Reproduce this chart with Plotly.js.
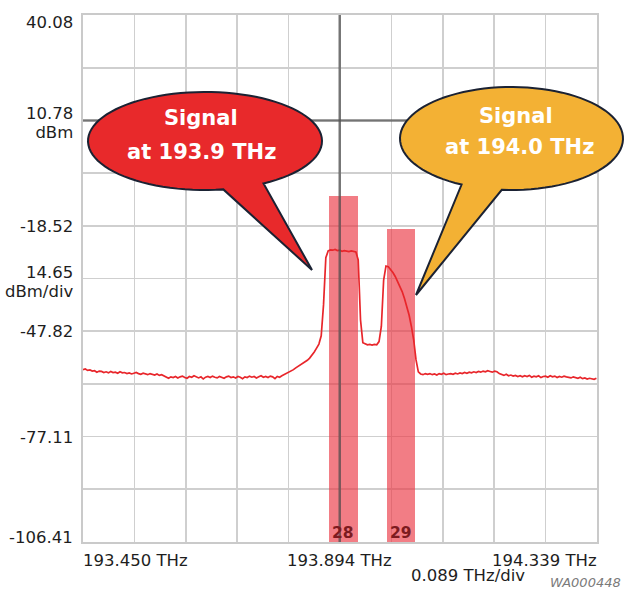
<!DOCTYPE html>
<html><head><meta charset="utf-8">
<script src="https://cdn.plot.ly/plotly-3.0.1.min.js"></script>
<style>html,body{margin:0;padding:0;background:#fff;} #chart{width:625px;height:589px;}</style>
</head><body><div id="chart"></div>
<script>
// ---- data ----
const freqStart = 193.450;   // THz, first trace sample
const freqStep = 0.004;      // THz between samples
const powerDbm = [
 -58.5,-58.3,-58.7,-58.6,-58.9,-58.8,-59.2,-58.9,-59.0,-59.3,
 -59.1,-59.4,-59.0,-59.3,-59.2,-59.5,-59.1,-59.4,-59.3,-59.6,
 -59.4,-59.7,-59.5,-59.3,-59.6,-59.8,-59.5,-59.7,-59.9,-59.6,
 -59.8,-60.0,-59.7,-60.1,-59.9,-60.3,-60.6,-60.9,-60.5,-60.7,
 -60.4,-60.8,-60.5,-60.3,-60.7,-60.9,-60.4,-60.6,-60.2,-60.5,
 -60.8,-60.5,-61.1,-60.6,-60.4,-60.7,-60.3,-60.6,-60.8,-60.4,
 -60.6,-60.9,-60.5,-60.3,-60.7,-60.5,-60.8,-60.4,-60.6,-61.0,
 -60.5,-60.7,-60.3,-60.6,-60.4,-60.8,-60.5,-60.2,-60.6,-60.4,
 -60.7,-60.3,-60.5,-61.0,-60.4,-60.6,-60.2,-59.9,-59.4,-59.2,
 -58.9,-58.5,-58.0,-57.6,-57.2,-56.8,-56.4,-55.9,-55.3,-54.5,
 -53.6,-52.5,-51.4,-49.1,-40.5,-27.4,-25.5,-25.2,-25.3,-25.1,
 -25.4,-25.3,-25.6,-25.4,-25.5,-25.7,-25.5,-25.6,-25.8,-28.0,
 -44.7,-51.0,-51.4,-51.6,-51.5,-51.7,-51.5,-51.6,-50.7,-46.5,
 -33.6,-29.7,-29.9,-30.6,-31.5,-32.6,-34.0,-35.4,-36.8,-38.7,
 -40.8,-43.3,-46.5,-50.3,-55.8,-59.1,-59.7,-59.9,-59.6,-59.8,
 -59.6,-59.9,-59.7,-60.0,-59.6,-59.8,-59.5,-59.9,-59.7,-59.6,
 -59.8,-59.5,-59.7,-59.4,-59.6,-59.3,-59.5,-59.2,-59.4,-59.1,
 -59.3,-59.0,-59.2,-58.9,-59.1,-58.8,-59.0,-59.2,-58.9,-59.1,
 -59.6,-59.9,-60.1,-59.8,-60.2,-60.0,-60.3,-60.1,-60.4,-60.2,
 -60.5,-60.2,-60.4,-60.1,-60.6,-60.3,-60.5,-60.2,-60.7,-60.4,
 -60.3,-60.6,-60.2,-60.5,-60.3,-60.7,-60.4,-60.6,-60.3,-60.5,
 -60.6,-60.8,-60.5,-60.7,-60.9,-60.6,-61.0,-60.8,-61.1,-60.9,
 -61.0,-61.2,-60.9
];
const channelNums = ['28', '29'];
const channelFreqs = [193.900, 194.000];
const channelTops = [-10.1, -19.4];
const channelWidth = 0.05;

const xRange = [193.450, 194.339];
const yRange = [-106.41, 40.08];
const xDiv = 0.0889;
const yDiv = 14.649;
const centerFreq = 193.894;
const refLevel = 10.78;

const yLabelVals = [40.08, -18.52, -47.82, -77.11, -106.41];
const yLabelText = ['40.08', '-18.52', '-47.82', '-77.11', '-106.41'];
const yRefText = ['10.78', 'dBm'];
const yScaleVal = -33.17;
const yScaleText = ['14.65', 'dBm/div'];
const xLabelVals = [193.450, 193.894, 194.339];
const xLabelText = ['193.450 THz', '193.894 THz', '194.339 THz'];
const xScaleText = '0.089 THz/div';
const figId = 'WA000448';
const bubbleTexts = [['Signal', 'at 193.9 THz'], ['Signal', 'at 194.0 THz']];

// ---- drawing ----
const FONT = 'DejaVu Sans';
const FS = 16.5;
const L = 83, T = 15, W = 514, H = 527;
function pp(px, py) { return [(px - L) / W, (T + H - py) / H]; }
function bubble(cx, cy, rx, ry, a0, a1, tip) {
  let d = ''; const n = 90;
  for (let k = 0; k <= n; k++) {
    const t = (a0 + (a1 - a0) * k / n) * Math.PI / 180;
    const p = pp(cx + rx * Math.cos(t), cy + ry * Math.sin(t));
    d += (k ? 'L' : 'M') + p[0].toFixed(5) + ',' + p[1].toFixed(5);
  }
  const tp = pp(tip[0], tip[1]);
  return d + 'L' + tp[0].toFixed(5) + ',' + tp[1].toFixed(5) + 'Z';
}
// two-line label with tight line spacing (base font sets the 1.3em spacing)
function twoLine(a, b) {
  return '<span style="font-size:' + FS + 'px">' + a + '</span><br><span style="font-size:' + FS + 'px">' + b + '</span>';
}

const traces = [
  {
    type: 'bar', x: channelFreqs,
    y: channelTops.map(v => v - yRange[0]), base: yRange[0],
    width: channelWidth,
    marker: {color: 'rgba(234,52,64,0.64)', line: {width: 0}},
    hoverinfo: 'skip'
  },
  {
    type: 'scatter', mode: 'lines', x0: freqStart, dx: freqStep, y: powerDbm,
    line: {color: '#e8262b', width: 1.7}, hoverinfo: 'skip'
  }
];

const ann = [];
const yShifts = [-7, -1, 0, -1, 5];
yLabelVals.forEach((v, i) => ann.push({
  xref: 'paper', x: 0, xanchor: 'right', xshift: -8, yref: 'y', y: v, yanchor: 'middle',
  yshift: yShifts[i], text: yLabelText[i], showarrow: false,
  font: {family: FONT, size: FS, color: '#1e1e1e'}
}));
ann.push({xref: 'paper', x: 0, xanchor: 'right', xshift: -8, yref: 'y', y: refLevel, yanchor: 'middle',
  yshift: -3, text: twoLine(yRefText[0], yRefText[1]), align: 'right', showarrow: false,
  font: {family: FONT, size: 14.6, color: '#1e1e1e'}});
ann.push({xref: 'paper', x: 0, xanchor: 'right', xshift: -8, yref: 'y', y: yScaleVal, yanchor: 'middle',
  yshift: -3.5, text: twoLine(yScaleText[0], yScaleText[1]), align: 'right', showarrow: false,
  font: {family: FONT, size: 14.6, color: '#1e1e1e'}});
const xAnch = ['left', 'center', 'right'];
xLabelVals.forEach((v, i) => ann.push({
  xref: 'x', x: v, xanchor: xAnch[i], xshift: i === 0 ? -2 : (i === 2 ? 2 : 0),
  yref: 'paper', y: 0, yanchor: 'middle', yshift: -18,
  text: xLabelText[i], showarrow: false, font: {family: FONT, size: FS, color: '#1e1e1e'}
}));
ann.push({xref: 'paper', x: (468 - L) / W, xanchor: 'center', yref: 'paper', y: 0, yanchor: 'middle',
  yshift: -33, text: xScaleText, showarrow: false, font: {family: FONT, size: FS, color: '#1e1e1e'}});
ann.push({xref: 'paper', x: (623 - L) / W, xanchor: 'right', yref: 'paper', y: 0, yanchor: 'middle',
  yshift: -40, text: '<i>' + figId + '</i>', showarrow: false, font: {family: FONT, size: 13, color: '#7a7a7a'}});
channelNums.forEach((c, i) => ann.push({
  xref: 'x', x: channelFreqs[i], xanchor: 'center', yref: 'y', y: yRange[0], yanchor: 'bottom',
  yshift: -2, text: '<b>' + c + '</b>', showarrow: false, font: {family: FONT, size: 15.5, color: '#7d1b20'}
}));
// bubble texts
const btPos = [[[201, 118], [201, 152]], [[516, 116], [519, 147]]];
bubbleTexts.forEach((lines, b) => lines.forEach((t, k) => {
  const p = pp(btPos[b][k][0], btPos[b][k][1]);
  ann.push({xref: 'paper', yref: 'paper', x: p[0], y: p[1], xanchor: 'center', yanchor: 'middle',
    text: '<b>' + t + '</b>', showarrow: false, font: {family: FONT, size: 21, color: '#ffffff'}});
}));

const crossLine = {color: 'rgba(80,80,80,0.72)', width: 2.5};
const shapes = [
  {type: 'line', xref: 'x', yref: 'paper', x0: centerFreq, x1: centerFreq, y0: 0, y1: 1,
    line: crossLine, layer: 'above'},
  {type: 'line', xref: 'paper', yref: 'y', x0: 0, x1: 1, y0: refLevel, y1: refLevel,
    line: crossLine, layer: 'above'},
  {type: 'path', xref: 'paper', yref: 'paper', path: bubble(205, 141, 117, 49, 60, -279, [312, 270]),
    fillcolor: '#e8292b', line: {color: '#1b2233', width: 2}, layer: 'above'},
  {type: 'path', xref: 'paper', yref: 'paper', path: bubble(511.5, 138.5, 111.5, 51.5, 95, -243.4, [416, 295]),
    fillcolor: '#f3b134', line: {color: '#1b2233', width: 2}, layer: 'above'}
];

const axCommon = {showgrid: true, gridcolor: '#cfcfcf', gridwidth: 1.6, zeroline: false,
  showticklabels: false, ticks: '', showline: true, mirror: true, linecolor: '#cacaca', linewidth: 1.6, fixedrange: true};

const layout = {
  width: 625, height: 589,
  margin: {l: L, r: 625 - L - W, t: T, b: 589 - T - H, pad: 0},
  paper_bgcolor: '#ffffff', plot_bgcolor: '#ffffff',
  showlegend: false, bargap: 0,
  xaxis: Object.assign({}, axCommon, {range: xRange, tick0: xRange[0], dtick: xDiv, tickmode: 'linear'}),
  yaxis: Object.assign({}, axCommon, {range: yRange, tick0: yRange[0], dtick: yDiv, tickmode: 'linear'}),
  annotations: ann, shapes: shapes
};

Plotly.newPlot('chart', traces, layout, {staticPlot: true, displayModeBar: false});
</script></body></html>
